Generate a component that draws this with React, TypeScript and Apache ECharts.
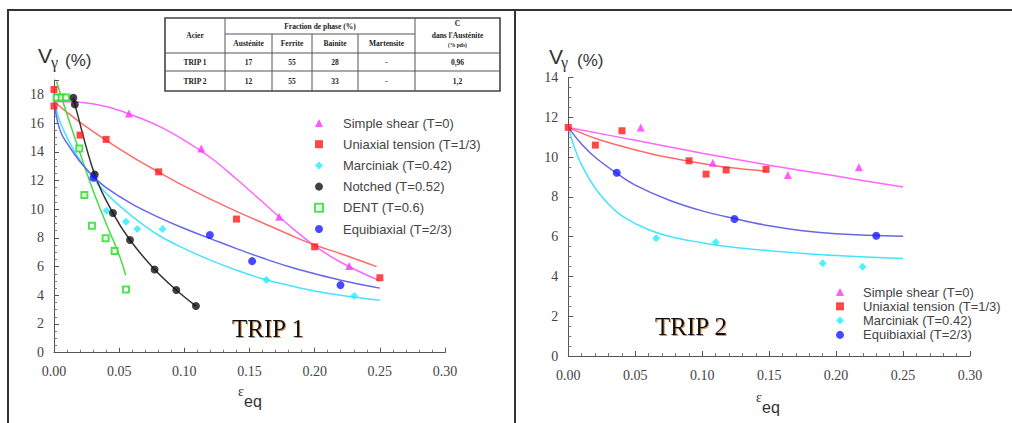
import React, { useEffect, useRef } from "react";
import * as echarts from "echarts";

// ---------- names ----------
const nameShear = "Simple shear (T=0)";
const nameTension = "Uniaxial tension (T=1/3)";
const nameMarc = "Marciniak (T=0.42)";
const nameNotched = "Notched (T=0.52)";
const nameDent = "DENT (T=0.6)";
const nameEqui = "Equibiaxial (T=2/3)";

const legendLeft = [nameShear, nameTension, nameMarc, nameNotched, nameDent, nameEqui];
const legendRight = [nameShear, nameTension, nameMarc, nameEqui];

const xTicks = [0, 0.05, 0.1, 0.15, 0.2, 0.25, 0.3];

// ---------- TRIP 1 ----------
const shear1Pts = [[0.0575, 16.67], [0.113, 14.23], [0.1728, 9.47], [0.2265, 6.04]];
const shear1Fit = [[0, 17.5], [0.02, 17.45], [0.04, 17.15], [0.06, 16.55], [0.08, 15.8], [0.1, 14.8], [0.12, 13.6], [0.14, 12.1], [0.16, 10.5], [0.18, 8.9], [0.2, 7.45], [0.22, 6.3], [0.25, 5.0]];
const tension1Pts = [[0, 18.34], [0, 17.18], [0.02, 15.16], [0.04, 14.86], [0.0803, 12.6], [0.14, 9.31], [0.2, 7.38], [0.25, 5.22]];
const tension1Fit = [[0, 17.5], [0.01, 16.75], [0.02, 16.05], [0.04, 14.8], [0.06, 13.65], [0.08, 12.6], [0.1, 11.6], [0.12, 10.7], [0.14, 9.85], [0.16, 9.05], [0.18, 8.25], [0.2, 7.5], [0.22, 6.9], [0.2475, 6.0]];
const marc1Pts = [[0.0404, 9.89], [0.0552, 9.12], [0.0639, 8.61], [0.0833, 8.61], [0.163, 5.06], [0.2303, 3.95]];
const marc1Fit = [[0, 17.5], [0.005, 16.0], [0.01, 15.0], [0.02, 13.4], [0.03, 12.2], [0.04, 11.1], [0.06, 9.5], [0.08, 8.2], [0.1, 7.25], [0.12, 6.45], [0.14, 5.75], [0.16, 5.15], [0.18, 4.7], [0.2, 4.3], [0.22, 4.0], [0.25, 3.65]];
const notched1Pts = [[0.0148, 17.76], [0.016, 17.3], [0.0312, 12.42], [0.0452, 9.73], [0.0583, 7.85], [0.0772, 5.8], [0.0938, 4.37], [0.1089, 3.25]];
const notched1Fit = [[0.0148, 17.76], [0.016, 17.3], [0.0312, 12.42], [0.0452, 9.73], [0.0583, 7.85], [0.0772, 5.8], [0.0938, 4.37], [0.1089, 3.25]];
const dent1Pts = [[0.002, 17.78], [0.0059, 17.78], [0.0092, 17.78], [0.0194, 14.23], [0.0233, 10.98], [0.0291, 8.85], [0.0396, 7.97], [0.0465, 7.08], [0.0552, 4.41]];
const dent1Fit = [[0.002, 18.9], [0.01, 16.6], [0.02, 13.9], [0.03, 11.3], [0.04, 9.0], [0.05, 6.8], [0.055, 5.4]];
const equi1Pts = [[0.0302, 12.19], [0.1196, 8.2], [0.152, 6.38], [0.2198, 4.71]];
const equi1Fit = [[0, 17.5], [0.003, 16.0], [0.006, 15.2], [0.01, 14.6], [0.02, 13.3], [0.03, 12.3], [0.04, 11.5], [0.06, 10.35], [0.08, 9.45], [0.1, 8.65], [0.12, 7.95], [0.14, 7.25], [0.16, 6.6], [0.18, 6.0], [0.2, 5.5], [0.22, 5.05], [0.25, 4.5]];

// ---------- TRIP 2 ----------
const shear2Pts = [[0.0541, 11.5], [0.1079, 9.72], [0.164, 9.1], [0.217, 9.49]];
const shear2Fit = [[0, 11.5], [0.05, 10.85], [0.1, 10.2], [0.15, 9.6], [0.2, 9.05], [0.25, 8.5]];
const tension2Pts = [[0, 11.5], [0.0202, 10.61], [0.0401, 11.33], [0.0902, 9.82], [0.1029, 9.15], [0.1179, 9.36], [0.1477, 9.39]];
const tension2Fit = [[0, 11.5], [0.02, 10.95], [0.04, 10.55], [0.06, 10.2], [0.08, 9.92], [0.1, 9.68], [0.12, 9.48], [0.148, 9.3]];
const marc2Pts = [[0.0656, 5.92], [0.1101, 5.72], [0.19, 4.66], [0.2197, 4.49]];
const marc2Fit = [[0, 11.5], [0.005, 10.4], [0.01, 9.6], [0.02, 8.45], [0.03, 7.65], [0.04, 7.05], [0.06, 6.35], [0.08, 5.95], [0.1, 5.7], [0.12, 5.5], [0.15, 5.3], [0.2, 5.05], [0.25, 4.9]];
const equi2Pts = [[0.0362, 9.22], [0.1241, 6.89], [0.23, 6.05]];
const equi2Fit = [[0, 11.5], [0.01, 10.65], [0.02, 10.0], [0.036, 9.2], [0.05, 8.6], [0.075, 7.85], [0.1, 7.3], [0.125, 6.9], [0.15, 6.55], [0.175, 6.3], [0.2, 6.15], [0.25, 6.02]];

// ---------- table ----------
const tableHeaderPhases = ["Austénite", "Ferrite", "Bainite", "Martensite"];
const tableRows = [
  ["TRIP 1", "17", "55", "28", "-", "0,96"],
  ["TRIP 2", "12", "55", "33", "-", "1,2"],
];

const SERIF = "'Liberation Serif', 'Times New Roman', serif";
const SANS = "'Liberation Sans', Arial, sans-serif";

const sty = {
  shear: { symbol: "triangle", size: 8, color: "#ff33ff", line: "#ff66ff" },
  tension: { symbol: "rect", size: 7, color: "#ff1a1a", line: "#ff6a6a" },
  marc: { symbol: "diamond", size: 8, color: "#22eeff", line: "#44e4ff" },
  notched: { symbol: "circle", size: 8, color: "#111111", line: "#333333" },
  dent: { symbol: "emptyRect", size: 6, color: "#22dd22", line: "#44dd44" },
  equi: { symbol: "circle", size: 8, color: "#1a1aff", line: "#6666ee" },
};

function scatter(name: string, data: number[][], s: any, idx: number) {
  return {
    type: "scatter",
    name,
    data,
    xAxisIndex: idx,
    yAxisIndex: idx,
    symbol: s.symbol,
    symbolSize: s.size,
    itemStyle: s.symbol === "emptyRect" ? { color: s.color, borderColor: s.color, borderWidth: 2 } : { color: s.color },
    z: 4,
  };
}
function fit(name: string, data: number[][], s: any, idx: number) {
  return {
    type: "line",
    name,
    data,
    xAxisIndex: idx,
    yAxisIndex: idx,
    showSymbol: false,
    symbol: "none",
    smooth: 0.4,
    lineStyle: { color: s.line, width: 1.5 },
    z: 2,
  };
}

function xAxis(gridIndex: number) {
  return {
    type: "value",
    gridIndex,
    min: 0,
    max: 0.3,
    interval: 0.05,
    axisLine: { onZero: false, lineStyle: { color: "#555", width: 1 } },
    axisTick: { inside: true, length: 5, lineStyle: { color: "#555" } },
    minorTick: { show: true, splitNumber: 5, length: 3, lineStyle: { color: "#777" } },
    axisLabel: {
      formatter: (v: number) => {
        const t = xTicks.find((k) => Math.abs(k - v) < 1e-6);
        return t === undefined ? "" : t.toFixed(2);
      },
      fontFamily: SERIF,
      fontSize: 14,
      color: "#444",
      margin: 12,
    },
    splitLine: { show: false },
  };
}
function yAxis(gridIndex: number, max: number) {
  return {
    type: "value",
    gridIndex,
    min: 0,
    max,
    interval: 2,
    axisLine: { show: true, onZero: false, lineStyle: { color: "#555", width: 1 } },
    axisTick: { show: true, inside: true, length: 5, lineStyle: { color: "#555" } },
    minorTick: { show: true, splitNumber: 4, length: 3, lineStyle: { color: "#777" } },
    axisLabel: {
      showMaxLabel: max % 2 === 0,
      formatter: (v: number) => (Math.abs(v % 2) < 1e-6 ? String(v) : ""),
      fontFamily: SERIF,
      fontSize: 14,
      color: "#444",
      margin: 10,
    },
    splitLine: { show: false },
  };
}

function buildTable() {
  const els: any[] = [];
  const X = [165, 225, 272, 312, 358, 415, 500];
  const Y = [18, 34, 53, 71, 91];
  const lc = "#555";
  els.push({ type: "rect", shape: { x: X[0], y: Y[0], width: X[6] - X[0], height: Y[4] - Y[0] }, style: { fill: "#fff", stroke: "#444", lineWidth: 1.6 }, z: 10 });
  const line = (x1: number, y1: number, x2: number, y2: number) =>
    els.push({ type: "line", shape: { x1, y1, x2, y2 }, style: { stroke: lc, lineWidth: 1 }, z: 11 });
  line(X[1], Y[1], X[5], Y[1]);
  line(X[0], Y[2], X[6], Y[2]);
  line(X[0], Y[3], X[6], Y[3]);
  line(X[1], Y[0], X[1], Y[4]);
  line(X[5], Y[0], X[5], Y[4]);
  for (let i = 2; i <= 4; i++) line(X[i], Y[1], X[i], Y[4]);
  const txt = (text: string, x: number, y: number, size = 7.5) =>
    els.push({
      type: "text",
      x,
      y,
      style: { text, fontFamily: SERIF, fontSize: size, fontWeight: "bold", fill: "#222", textAlign: "center", textVerticalAlign: "middle", align: "center", verticalAlign: "middle" },
      z: 12,
    });
  txt("Acier", (X[0] + X[1]) / 2, (Y[0] + Y[2]) / 2);
  txt("Fraction de phase (%)", (X[1] + X[5]) / 2, (Y[0] + Y[1]) / 2);
  tableHeaderPhases.forEach((h, i) => txt(h, (X[i + 1] + X[i + 2]) / 2, (Y[1] + Y[2]) / 2));
  txt("C", (X[5] + X[6]) / 2, 23);
  txt("dans l'Austénite", (X[5] + X[6]) / 2, 35);
  txt("(% pds)", (X[5] + X[6]) / 2, 45, 5.5);
  tableRows.forEach((row, r) => {
    row.forEach((cell, c) => txt(cell, (X[c] + X[c + 1]) / 2, (Y[r + 2] + Y[r + 3]) / 2));
  });
  return els;
}

function text(t: string, x: number, y: number, size: number, family: string, extra: any = {}) {
  return {
    type: "text",
    x,
    y,
    style: { text: t, fontSize: size, fontFamily: family, fill: "#333", textAlign: "left", textVerticalAlign: "middle", align: "left", verticalAlign: "middle", ...extra },
    z: 12,
  };
}

export default function App() {
  const ref = useRef<HTMLDivElement>(null);
  useEffect(() => {
    if (!ref.current) return;
    const chart = echarts.init(ref.current, null, { renderer: "svg" });
    const trip = { fontWeight: "normal", fill: "#111", textShadowColor: "rgba(190,110,30,0.7)", textShadowBlur: 1, textShadowOffsetX: 1, textShadowOffsetY: 1 };
    const option: any = {
      animation: false,
      backgroundColor: "#fff",
      grid: [
        { left: 54, top: 80, width: 391, height: 272.7 },
        { left: 568.3, top: 77.7, width: 401.7, height: 278.3 },
      ],
      xAxis: [xAxis(0), xAxis(1)],
      yAxis: [yAxis(0, 19), yAxis(1, 14)],
      legend: [
        {
          data: legendLeft,
          orient: "vertical",
          left: 314,
          top: 116,
          padding: 0,
          itemGap: 7.2,
          itemWidth: 8,
          itemHeight: 8,
          selectedMode: false,
          textStyle: { fontFamily: SANS, fontSize: 13, color: "#444", lineHeight: 14, padding: [0, 0, 0, 15] },
        },
        {
          data: legendRight,
          orient: "vertical",
          left: 836,
          top: 285,
          padding: 0,
          itemGap: 0.3,
          itemWidth: 8,
          itemHeight: 8,
          selectedMode: false,
          textStyle: { fontFamily: SANS, fontSize: 13, color: "#444", lineHeight: 14, padding: [0, 0, 0, 14] },
        },
      ],
      graphic: [
        { type: "line", shape: { x1: 7, y1: 10, x2: 1012, y2: 10 }, style: { stroke: "#333", lineWidth: 2 } },
        { type: "line", shape: { x1: 8, y1: 10, x2: 8, y2: 423 }, style: { stroke: "#333", lineWidth: 2 } },
        { type: "line", shape: { x1: 515, y1: 10, x2: 515, y2: 423 }, style: { stroke: "#333", lineWidth: 2 } },
        ...buildTable(),
        text("V", 38, 55, 21, SANS),
        text("γ", 51, 62, 16, SERIF),
        text("(%)", 65, 60, 17, SANS),
        text("V", 549, 56, 21, SANS),
        text("γ", 561, 62, 16, SERIF),
        text("(%)", 577, 60, 17, SANS),
        text("ε", 238, 391, 14, SERIF),
        text("eq", 244, 401, 16, SANS),
        text("ε", 756, 397, 14, SERIF),
        text("eq", 762, 407, 16, SANS),
        text("TRIP 1", 232, 328, 25, SERIF, trip),
        text("TRIP 2", 655, 326, 25, SERIF, trip),
      ],
      series: [
        fit("fit1-shear", shear1Fit, sty.shear, 0),
        fit("fit1-tension", tension1Fit, sty.tension, 0),
        fit("fit1-marc", marc1Fit, sty.marc, 0),
        fit("fit1-notched", notched1Fit, sty.notched, 0),
        fit("fit1-dent", dent1Fit, sty.dent, 0),
        fit("fit1-equi", equi1Fit, sty.equi, 0),
        scatter(nameShear, shear1Pts, sty.shear, 0),
        scatter(nameTension, tension1Pts, sty.tension, 0),
        scatter(nameMarc, marc1Pts, sty.marc, 0),
        scatter(nameNotched, notched1Pts, sty.notched, 0),
        scatter(nameDent, dent1Pts, sty.dent, 0),
        scatter(nameEqui, equi1Pts, sty.equi, 0),
        fit("fit2-shear", shear2Fit, sty.shear, 1),
        fit("fit2-tension", tension2Fit, sty.tension, 1),
        fit("fit2-marc", marc2Fit, sty.marc, 1),
        fit("fit2-equi", equi2Fit, sty.equi, 1),
        scatter(nameShear, shear2Pts, sty.shear, 1),
        scatter(nameTension, tension2Pts, sty.tension, 1),
        scatter(nameMarc, marc2Pts, sty.marc, 1),
        scatter(nameEqui, equi2Pts, sty.equi, 1),
      ],
    };
    chart.setOption(option);
    return () => chart.dispose();
  }, []);
  return <div ref={ref} style={{ position: "absolute", left: 0, top: 0, width: 1012, height: 423, background: "#fff" }} />;
}
